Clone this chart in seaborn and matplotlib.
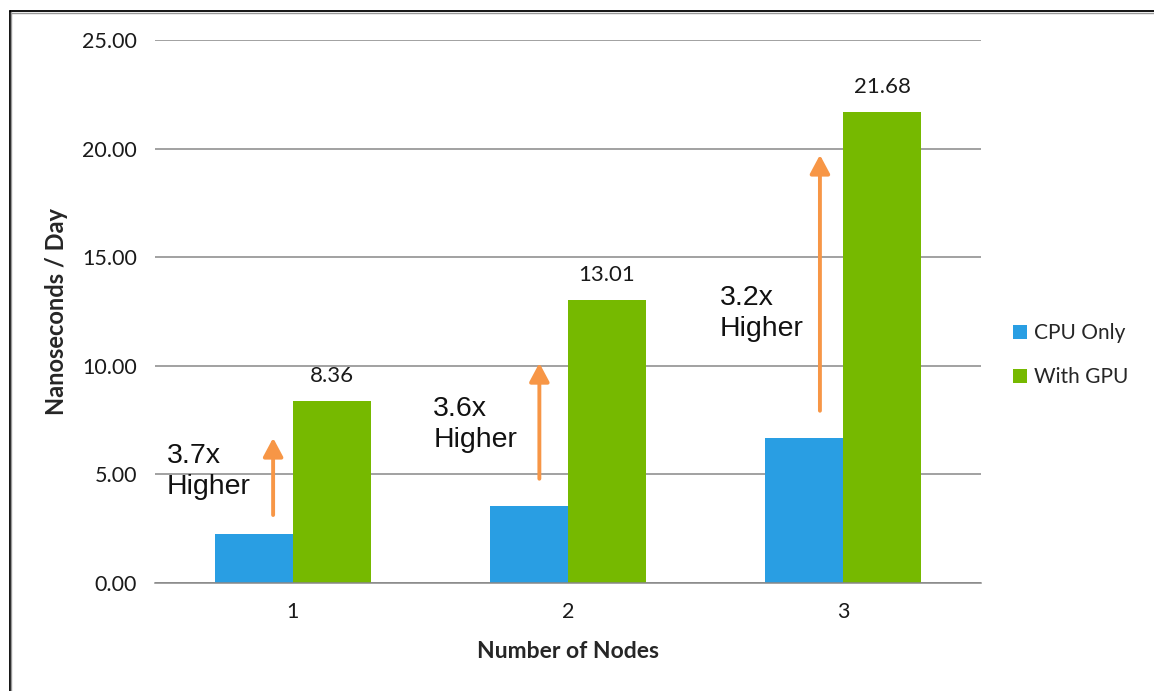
import matplotlib
matplotlib.use('Agg')
import matplotlib.pyplot as plt
import seaborn as sns
import pandas as pd
from matplotlib.lines import Line2D
from matplotlib.ticker import FormatStrFormatter, FixedLocator

nodes = ['1', '2', '3']
cpu_only = [2.26, 3.55, 6.68]
with_gpu = [8.36, 13.01, 21.68]
speedups = ['3.7x', '3.6x', '3.2x']
series_names = ['CPU Only', 'With GPU']

df = pd.DataFrame({
    'Nodes': nodes * 2,
    'Series': [series_names[0]] * 3 + [series_names[1]] * 3,
    'Value': cpu_only + with_gpu,
})

sns.set_style('white')
plt.rcParams['font.family'] = ['Lato', 'DejaVu Sans']

palette = {'CPU Only': '#299EE3', 'With GPU': '#76B900'}
orange = '#F79646'
grid_col = '#878787'

fig = plt.figure(figsize=(11.54, 6.91), dpi=100)
ax = fig.add_axes([155 / 1154, 1 - 583 / 691, 826 / 1154, 543 / 691])

sns.barplot(data=df, x='Nodes', y='Value', hue='Series', palette=palette,
            width=0.567, saturation=1, gap=0, linewidth=0, ax=ax, legend=True)

ax.set_xlim(-0.5, 2.5)
ax.set_ylim(0, 25)
ax.set_yticks([0, 5, 10, 15, 20, 25])
ax.yaxis.set_major_formatter(FormatStrFormatter('%.2f'))
ax.yaxis.grid(True, color=grid_col, linewidth=1.1)
ax.set_axisbelow(True)

for s in ['top', 'right', 'left']:
    ax.spines[s].set_visible(False)
ax.spines['bottom'].set_color(grid_col)
ax.spines['bottom'].set_linewidth(1.1)

ax.tick_params(axis='y', which='major', length=4.3, color=grid_col, width=1.1,
               pad=8.5, labelsize=15.5, labelcolor='#1a1a1a')
ax.tick_params(axis='x', which='major', length=0, pad=14, labelsize=15.5,
               labelcolor='#1a1a1a')
ax.xaxis.set_minor_locator(FixedLocator([0.5, 1.5, 2.5]))
ax.tick_params(axis='x', which='minor', length=5.5, color=grid_col, width=1.1)

ax.set_xlabel('Number of Nodes', fontsize=16.5, fontweight='bold', labelpad=13)
ax.set_ylabel('Nanoseconds / Day', fontsize=17, fontweight='bold', labelpad=10)

# value labels on GPU bars
ax.bar_label(ax.containers[1], labels=['%.2f' % v for v in with_gpu],
             padding=11, fontsize=16, color='#1a1a1a')

# speedup arrows and text
arrow_dx = [-0.071, -0.104, -0.085]
text_pos = [(-0.456, 6.45), (0.511, 8.62), (1.551, 13.73)]
for i in range(3):
    tail = cpu_only[i] + 0.87 if i == 0 else cpu_only[i] + 1.25
    tip = with_gpu[i] - 1.68 if i == 0 else (with_gpu[i] - 2.88 if i == 1 else with_gpu[i] - 1.97)
    ax.annotate('', xy=(i + arrow_dx[i], tip), xytext=(i + arrow_dx[i], tail),
                arrowprops=dict(arrowstyle='-|>,head_length=0.75,head_width=0.4',
                                color=orange, lw=2.8, mutation_scale=15,
                                shrinkA=0, shrinkB=0))
    ax.text(text_pos[i][0], text_pos[i][1], speedups[i] + '\nHigher',
            fontsize=20.5, family=['Liberation Sans', 'DejaVu Sans'],
            ha='left', va='top', linespacing=1.25, color='#111111')

# legend
handles, labels = ax.get_legend_handles_labels()
ax.legend(handles, labels, loc='center left',
          bbox_to_anchor=(1013 / 1154, 1 - 355 / 691),
          bbox_transform=fig.transFigure, frameon=False, fontsize=15,
          handlelength=0.68, handleheight=0.68, handletextpad=0.35,
          labelspacing=1.15, borderpad=0, borderaxespad=0)

# outer frame (top and left edges)
fig.add_artist(Line2D([10 / 1154, 1], [1 - 10.5 / 691] * 2, color='black', lw=1.3,
                      transform=fig.transFigure))
fig.add_artist(Line2D([11 / 1154, 1], [1 - 12.5 / 691] * 2, color='#999999', lw=1,
                      transform=fig.transFigure))
fig.add_artist(Line2D([10 / 1154] * 2, [0, 1 - 10.5 / 691], color='black', lw=1.3,
                      transform=fig.transFigure))
fig.add_artist(Line2D([11.5 / 1154] * 2, [0, 1 - 12 / 691], color='#999999', lw=1,
                      transform=fig.transFigure))

fig.savefig('out.png', dpi=100)
